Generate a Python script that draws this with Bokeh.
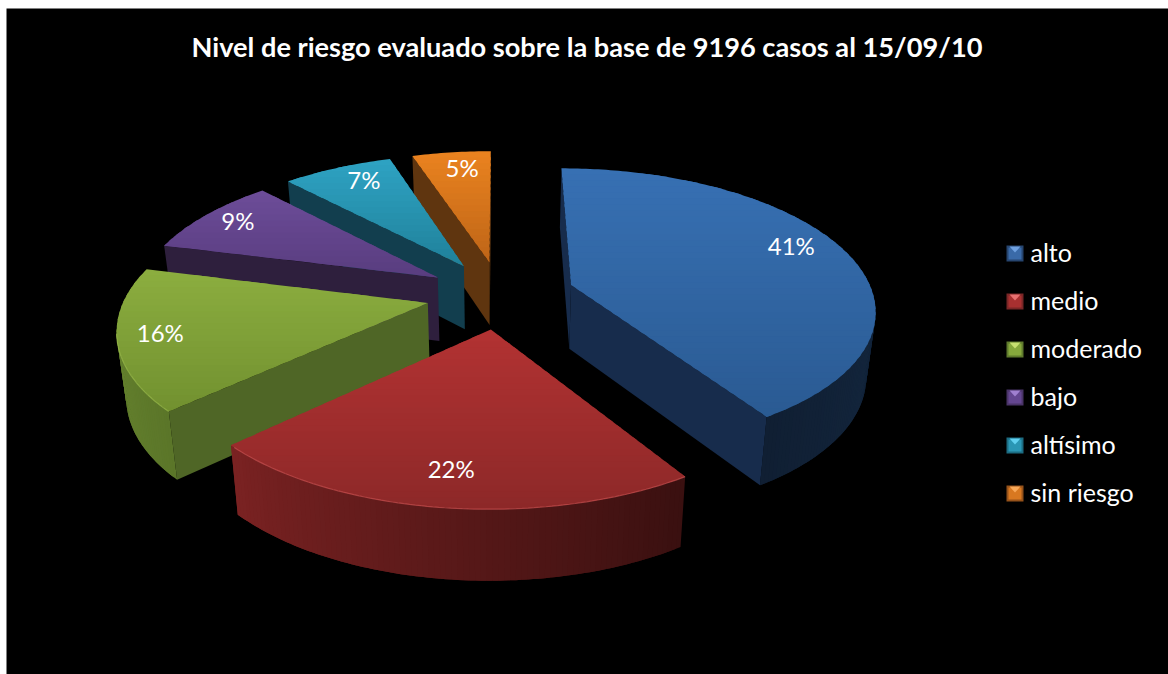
import numpy as np
from bokeh.plotting import figure
from bokeh.models import Range1d, ColumnDataSource
from bokeh.core.properties import value
from bokeh.embed import file_html
from bokeh.resources import INLINE

TITLE = "Nivel de riesgo evaluado sobre la base de 9196 casos al 15/09/10"
categories = ["alto", "medio", "moderado", "bajo", "altísimo", "sin riesgo"]
shares = [41, 22, 16, 9, 7, 5]

top_light = ["#3770B3", "#B23232", "#8BAD3F", "#6C4C98", "#2EA2C2", "#E9821F"]
top_dark = ["#2A5A92", "#8C2828", "#71902F", "#583C7E", "#1F8099", "#BD6417"]
wall_a = ["#1C3858", "#3A1010", "#5B7629", "#2E1F3D", "#123E4E", "#5F350F"]
wall_b = ["#101F33", "#7A2222", "#6E8C33", "#2E1F3D", "#123E4E", "#5F350F"]
cut_col = ["#172C4C", "#5A1A1A", "#4F6626", "#2E1F3D", "#123E4E", "#5F350F"]
rim_col = [None, "#C85050", "#9ABB4C", None, None, None]
legend_dark = ["#26456F", "#7A2626", "#5F7A2D", "#4A3468", "#1C6C82", "#96521A"]
legend_mid = ["#3A6AA8", "#A83030", "#86A83C", "#644690", "#2A96B4", "#D87820"]
legend_light = ["#6EA0E0", "#E87070", "#C8E070", "#A080D0", "#60D0F0", "#F8A858"]

label_r = [0.80, 0.76, 0.85, 0.80, 0.80, 0.80]
label_lift = [10, -10, 1, 6, 6, 4]
label_shift = [1, -4, -5, -12, 4, 4]

# projection of the tilted pie
CX, VP, B, A, K, EXPL, H, SHRINK = 500.0, -570.0, 864.0, 302.0, 0.16, 0.246, 64.0, 0.975


def proj(X, Y, bottom=False):
    X, Y = np.asarray(X, float), np.asarray(Y, float)
    w = 1 + K * Y
    u = A * X / w
    v = VP + B / w
    if bottom:
        return CX + u * SHRINK, v + H * w ** -0.5
    return CX + u, v


def hexmix(a, b, t):
    ca = [int(a[i:i + 2], 16) for i in (1, 3, 5)]
    cb = [int(b[i:i + 2], 16) for i in (1, 3, 5)]
    return "#%02x%02x%02x" % tuple(int(round(x + (y - x) * t)) for x, y in zip(ca, cb))


def clip_band(xs, ys, lo, hi):
    def clip(pts, bound, keep_gt):
        out = []
        for i in range(len(pts)):
            p, q = pts[i], pts[(i + 1) % len(pts)]
            pin = p[1] >= bound if keep_gt else p[1] <= bound
            qin = q[1] >= bound if keep_gt else q[1] <= bound
            if pin:
                out.append(p)
            if pin != qin:
                t = (bound - p[1]) / (q[1] - p[1])
                out.append((p[0] + t * (q[0] - p[0]), bound))
        return out
    pts = list(zip(xs, ys))
    pts = clip(pts, lo, True)
    if pts:
        pts = clip(pts, hi, False)
    return pts


polys_x, polys_y, polys_c = [], [], []
rims = []


def add(xs, ys, c):
    polys_x.append(list(map(float, xs)))
    polys_y.append(list(map(float, ys)))
    polys_c.append(c)


fracs = np.cumsum([0] + shares) / sum(shares)
cam = np.array([0.0, -1.0 / K])
label_pts = []
for i in [5, 4, 3, 2, 0, 1]:
    t0, t1 = 2 * np.pi * fracs[i], 2 * np.pi * fracs[i + 1]
    mid = (t0 + t1) / 2
    off = EXPL * np.array([np.sin(mid), np.cos(mid)])
    th = np.linspace(t0, t1, max(12, int(shares[i] * 4)))
    ox, oy = off[0] + np.sin(th), off[1] + np.cos(th)

    # cut faces
    for ang, normal in ((t0, (-np.cos(t0), np.sin(t0))), (t1, (np.cos(t1), -np.sin(t1)))):
        if np.dot(normal, cam - off) > 0:
            ex, ey = off[0] + np.sin(ang), off[1] + np.cos(ang)
            ux, uy = proj([off[0], ex], [off[1], ey])
            bx, by = proj([off[0], ex], [off[1], ey], True)
            add([ux[0], ux[1], bx[1], bx[0]], [uy[0], uy[1], by[1], by[0]], cut_col[i])

    # outer wall, each strip overlapping the next so no seams show
    ux, uy = proj(ox, oy)
    bx, by = proj(ox, oy, True)
    vis = []
    for j in range(len(th) - 1):
        n = np.array([np.sin((th[j] + th[j + 1]) / 2), np.cos((th[j] + th[j + 1]) / 2)])
        if np.dot(n, cam - np.array([ox[j], oy[j]])) > 0:
            vis.append(j)
            k = min(j + 2, len(th) - 1)
            idx = list(range(j, k + 1))
            add(list(ux[idx]) + list(bx[idx][::-1]), list(uy[idx]) + list(by[idx][::-1]),
                hexmix(wall_a[i], wall_b[i], j / (len(th) - 2)))

    # top face, shaded in overlapping bands
    ax, ay = proj(off[0], off[1])
    fx = np.concatenate([[ax], ux])
    fy = np.concatenate([[ay], uy])
    lo, hi = fy.min(), fy.max()
    edges = np.arange(lo, hi + 6, 6)
    for a, b in zip(edges[:-1], edges[1:]):
        pts = clip_band(fx, fy, a, b + 3)
        if len(pts) >= 3:
            add([p[0] for p in pts], [p[1] for p in pts],
                hexmix(top_light[i], top_dark[i], (a - lo) / max(hi - lo, 1)))
    if rim_col[i] and vis:
        rims.append((list(ux[vis]), list(uy[vis]), rim_col[i]))

    lx, ly = proj(off[0] + label_r[i] * np.sin(mid), off[1] + label_r[i] * np.cos(mid))
    label_pts.append((float(lx) + label_shift[i], float(ly) - label_lift[i], f"{shares[i]}%"))

p = figure(width=1162, height=666, output_backend="svg", toolbar_location=None,
           x_range=Range1d(6, 1168), y_range=Range1d(674, 8), min_border=0,
           background_fill_color="#000000", border_fill_color="#000000",
           margin=(8, 0, 0, 6))
p.axis.visible = False
p.grid.visible = False
p.outline_line_color = None

p.patches("xs", "ys", source=ColumnDataSource(dict(xs=polys_x, ys=polys_y, c=polys_c)),
          fill_color="c", line_color=None)
for rx, ry, rc in rims:
    p.line(rx, ry, line_color=rc, line_width=1.2, line_alpha=0.7)

for lx, ly, s in label_pts:
    p.text([lx], [ly], text=[s], text_color="#FFFFFF", text_font=value("Lato"),
           text_font_size="24px", text_align="center", text_baseline="middle")

p.text([586.5], [46], text=[TITLE], text_color="#FFFFFF", text_font=value("Lato"),
       text_font_style="bold", text_font_size="27.2px", text_align="center", text_baseline="middle")

for i, name in enumerate(categories):
    yc = 253 + 48 * i
    xl, xr, yt, yb = 1006, 1023, yc - 8, yc + 8
    p.quad(left=[xl], right=[xr], top=[yt], bottom=[yb], fill_color=legend_dark[i], line_color=None)
    p.quad(left=[xl + 2], right=[xr - 2], top=[yt + 2], bottom=[yb - 2], fill_color=legend_mid[i], line_color=None)
    p.patch([xl + 3, xr - 3, (xl + xr) / 2], [yt + 1, yt + 1, yt + 7], fill_color=legend_light[i], line_color=None)
    p.text([1030], [yc - 2], text=[name], text_color="#FFFFFF", text_font=value("Lato"),
           text_font_size="25px", text_align="left", text_baseline="middle")

open("out.html", "w").write(file_html(p, INLINE))
